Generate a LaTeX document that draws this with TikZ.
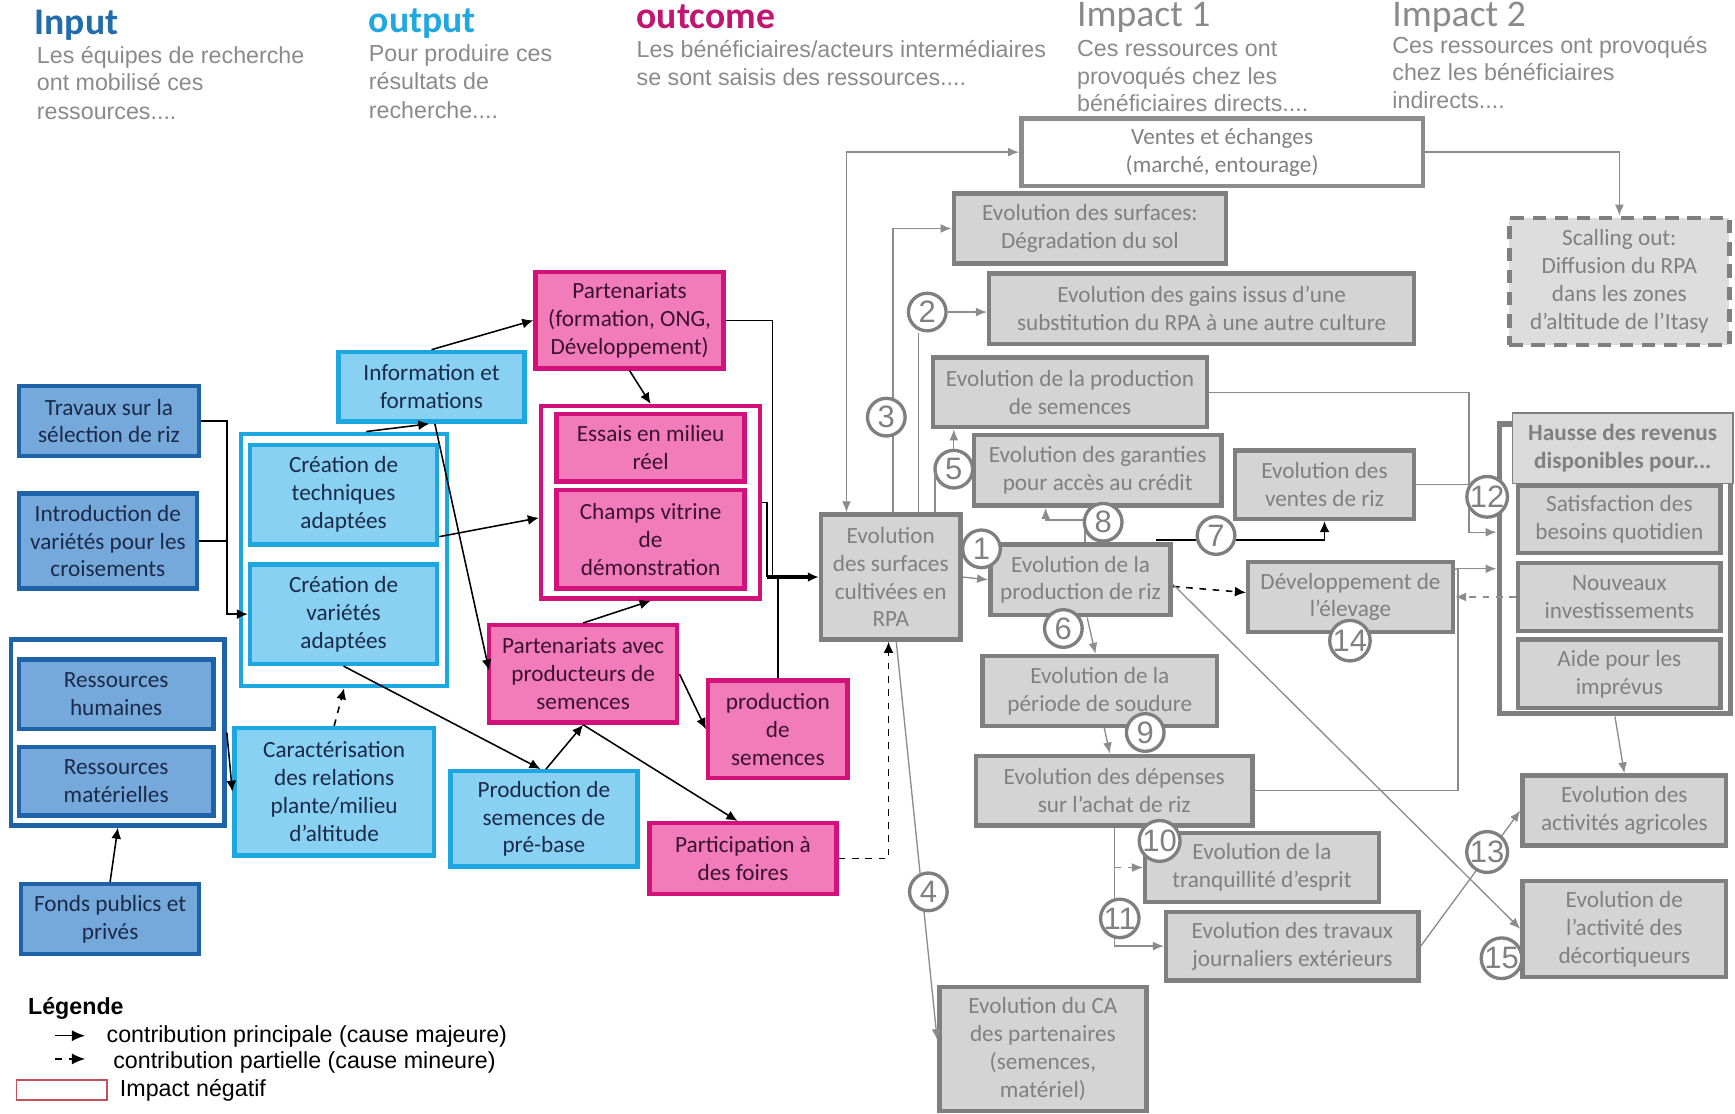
\documentclass[tikz,border=0pt]{standalone}
\usepackage{fontspec}
\setmainfont{Carlito}
\newfontfamily\arialf{Liberation Sans}
\usetikzlibrary{arrows.meta,calc}
\definecolor{ibfill}{HTML}{76A9DB}
\definecolor{ibdraw}{HTML}{1E63A9}
\definecolor{ibtext}{HTML}{1B2A48}
\definecolor{obfill}{HTML}{88D1F2}
\definecolor{obdraw}{HTML}{1CA7E0}
\definecolor{pbfill}{HTML}{F27CBA}
\definecolor{pbdraw}{HTML}{D3117A}
\definecolor{pbtext}{HTML}{3A1230}
\definecolor{gbfill}{HTML}{D4D4D4}
\definecolor{gbdraw}{HTML}{7F7F7F}
\definecolor{gbtext}{HTML}{808080}
\definecolor{subgray}{HTML}{8A8A8A}
\definecolor{tInput}{HTML}{226CAC}
\definecolor{tOutput}{HTML}{22A8E0}
\definecolor{tOutcome}{HTML}{C2156F}
\definecolor{linegray}{HTML}{8C8C8C}
\definecolor{legred}{HTML}{C8505A}
\newcommand\mkbox[7]{%
 \pgfmathsetmacro\mbcx{(#3+#5)/2}%
 \pgfmathsetmacro\mbcy{(#4+#6)/2}%
 \pgfmathsetmacro\mbw{(#5-#3)*0.5}%
 \pgfmathsetmacro\mbh{(#6-#4)*0.5}%
 \node[#2, minimum width=\mbw pt, minimum height=\mbh pt] (#1) at (\mbcx,\mbcy) {#7};}
\begin{document}
\begin{tikzpicture}[x=0.5pt,y=-0.5pt,
 bx/.style={draw, rectangle, inner sep=1pt, align=center, font=\fontsize{10.5}{12.6}\selectfont},
 ib/.style={bx, fill=ibfill, draw=ibdraw, line width=2pt, text=ibtext},
 ob/.style={bx, fill=obfill, draw=obdraw, line width=2pt, text=ibtext},
 pb/.style={bx, fill=pbfill, draw=pbdraw, line width=2pt, text=pbtext},
 gb/.style={bx, fill=gbfill, draw=gbdraw, line width=2pt, text=gbtext},
 grp/.style={draw, rectangle, fill=white, line width=2pt, inner sep=0pt},
 numc/.style={circle, draw=gbdraw, line width=1.5pt, fill=white, minimum size=17pt, inner sep=0pt, text=gbtext, font=\arialf\fontsize{14}{14}\selectfont},
 blk/.style={draw=black, line width=0.7pt, -{Latex[length=5pt,width=4.5pt]}},
 blkline/.style={draw=black, line width=0.7pt},
 gry/.style={draw=linegray, line width=0.6pt, -{Latex[length=5pt,width=4pt]}},
 gryline/.style={draw=linegray, line width=0.6pt},
 hdtitle/.style={anchor=base west, inner sep=0pt, font=\fontsize{17}{19}\selectfont},
 hdsub/.style={anchor=base west, inner sep=0pt, text=subgray, font=\arialf\fontsize{10.5}{12.5}\selectfont},
 legf/.style={anchor=base west, inner sep=0pt, font=\arialf\fontsize{10.5}{12.5}\selectfont},
]
\fill[white] (0,0) rectangle (1568,1006);
\useasboundingbox (0,0) rectangle (1568,1006);

% ---------- headers ----------
\node[hdtitle, text=tInput, font=\bfseries\fontsize{17}{19}\selectfont] (tIn) at (31,31) {Input};
\node[hdsub] (sIn1) at (33,57) {Les équipes de recherche};
\node[hdsub] (sIn2) at (33,82) {ont mobilisé ces};
\node[hdsub] (sIn3) at (33,108) {ressources....};
\node[hdtitle, text=tOutput, font=\bfseries\fontsize{17}{19}\selectfont] (tOut) at (333,29) {output};
\node[hdsub] (sOut1) at (333,56) {Pour produire ces};
\node[hdsub] (sOut2) at (333,81) {résultats de};
\node[hdsub] (sOut3) at (333,107) {recherche....};
\node[hdtitle, text=tOutcome, font=\bfseries\fontsize{17}{19}\selectfont] (tOc) at (575,26) {outcome};
\node[hdsub] (sOc1) at (575,52) {Les bénéficiaires/acteurs intermédiaires};
\node[hdsub] (sOc2) at (575,77) {se sont saisis des ressources....};
\node[hdtitle, text=subgray] (tI1) at (973,24) {Impact 1};
\node[hdsub] (sI11) at (973,51) {Ces ressources ont};
\node[hdsub] (sI12) at (973,76) {provoqués chez les};
\node[hdsub] (sI13) at (973,101) {bénéficiaires directs....};
\node[hdtitle, text=subgray] (tI2) at (1258,24) {Impact 2};
\node[hdsub] (sI21) at (1258,48) {Ces ressources ont provoqués};
\node[hdsub] (sI22) at (1258,73) {chez les bénéficiaires};
\node[hdsub] (sI23) at (1258,98) {indirects....};

% ---------- groups ----------
\mkbox{resgrp}{grp,draw=ibdraw}{10}{578}{203}{746}{}
\mkbox{outgrp}{grp,draw=obdraw}{218}{392}{404}{620}{}
\mkbox{essgrp}{grp,draw=pbdraw}{489}{367}{687}{541}{}
\mkbox{hgrp}{grp,draw=gbdraw,line width=2.5pt}{1355}{383}{1564}{645}{}

% ---------- input ----------
\mkbox{trav}{ib}{17}{349}{180}{412}{Travaux sur la\\sélection de riz}
\mkbox{intro}{ib}{17}{446}{178}{532}{Introduction de\\variétés pour les\\croisements}
\mkbox{reshum}{ib}{17}{596}{193}{659}{Ressources\\humaines}
\mkbox{resmat}{ib}{17}{675}{193}{737}{Ressources\\matérielles}
\mkbox{fonds}{ib}{19}{799}{180}{862}{Fonds publics et\\privés}

% ---------- output ----------
\mkbox{info}{ob}{306}{318}{474}{381}{Information et\\formations}
\mkbox{crtech}{ob}{226}{402}{395}{492}{Création de\\techniques\\adaptées}
\mkbox{crvar}{ob}{226}{510}{395}{600}{Création de\\variétés\\adaptées}
\mkbox{carac}{ob}{212}{658}{392}{773}{Caractérisation\\des relations\\plante/milieu\\d’altitude}
\mkbox{preb}{ob}{407}{697}{576}{783}{Production de\\semences de\\pré-base}

% ---------- outcome ----------
\mkbox{part}{pb}{484}{246}{654}{333}{Partenariats\\(formation, ONG,\\Développement)}
\mkbox{essais}{pb}{503}{374}{673}{435}{Essais en milieu\\réel}
\mkbox{champs}{pb}{503}{443}{673}{532}{Champs vitrine\\de\\démonstration}
\mkbox{partprod}{pb}{442}{565}{612}{653}{Partenariats avec\\producteurs de\\semences}
\mkbox{prodsem}{pb}{640}{615}{766}{703}{production\\de\\semences}
\mkbox{foires}{pb}{587}{744}{756}{808}{Participation à\\des foires}

% ---------- impact 1 ----------
\mkbox{ventes}{gb,fill=white,draw=gray!110!black}{923}{107}{1286}{168}{Ventes et échanges\\(marché, entourage)}
\mkbox{degr}{gb}{862}{175}{1108}{238}{Evolution des surfaces:\\Dégradation du sol}
\mkbox{gains}{gb}{894}{247}{1278}{311}{Evolution des gains issus d’une\\substitution du RPA à une autre culture}
\mkbox{prodsemev}{gb}{843}{323}{1091}{386}{Evolution de la production\\de semences}
\mkbox{garant}{gb}{880}{393}{1104}{457}{Evolution des garanties\\pour accès au crédit}
\mkbox{ventesriz}{gb}{1116}{407}{1278}{469}{Evolution des\\ventes de riz}
\mkbox{surf}{gb}{742}{465}{868}{578}{Evolution\\des surfaces\\cultivées en\\RPA}
\mkbox{prodriz}{gb}{895}{492}{1058}{556}{Evolution de la\\production de riz}
\mkbox{elev}{gb}{1128}{508}{1313}{571}{Développement de\\l’élevage}
\mkbox{soud}{gb}{888}{593}{1100}{656}{Evolution de la\\période de soudure}
\mkbox{depen}{gb}{882}{683}{1132}{746}{Evolution des dépenses\\sur l’achat de riz}
\mkbox{tranq}{gb}{1035}{753}{1246}{815}{Evolution de la\\tranquillité d’esprit}
\mkbox{travj}{gb}{1054}{824}{1282}{886}{Evolution des travaux\\journaliers extérieurs}
\mkbox{ca}{gb}{849}{892}{1036}{1004}{Evolution du CA\\des partenaires\\(semences,\\matériel)}

% ---------- impact 2 ----------
\mkbox{scal}{gb,dash pattern=on 6pt off 4pt,fill=gbfill!80!white}{1364}{197}{1563}{312}{Scalling out:\\Diffusion du RPA\\dans les zones\\d’altitude de l’Itasy}
\mkbox{satis}{gb}{1372}{439}{1555}{500}{Satisfaction des\\besoins quotidien}
\mkbox{nouv}{gb}{1372}{509}{1555}{570}{Nouveaux\\investissements}
\mkbox{aide}{gb}{1372}{578}{1555}{640}{Aide pour les\\imprévus}
\mkbox{hausse}{gb,line width=0.8pt,fill=gbfill!85!white,font=\bfseries\fontsize{10.5}{12.6}\selectfont}{1367}{373}{1566}{437}{Hausse des revenus\\disponibles pour...}
\mkbox{activ}{gb}{1376}{701}{1560}{764}{Evolution des\\activités agricoles}
\mkbox{decort}{gb}{1376}{796}{1560}{883}{Evolution de\\l’activité des\\décortiqueurs}

% ---------- black connectors ----------
\draw[blk] (trav.east) -- ++(23,0) |- (crvar.west);
\draw[blkline] (intro.east) -- ++(25,0);
\draw[blk] (fonds.north) -- (resgrp.south);
\draw[blk] (resgrp.east) -- (carac.west);
\draw[blk,dashed] (carac.north) -- (outgrp.south);
\draw[blk] ($(outgrp.north)+(20,0)$) -- ($(info.south)+(-2,0)$);
\draw[blk] (info.north) -- (part.west);
\draw[blk] ($(info.south)+(3,0)$) -- ($(partprod.west)+(2,-3)$);
\draw[blk] ($(crtech.east)+(0,38)$) -- ($(essgrp.west)+(0,14)$);
\draw[blk] (crvar.south) -- ($(preb.north)+(-3,0)$);
\draw[blk] ($(preb.north)+(2,0)$) -- (partprod.south);
\draw[blk] (partprod.south) -- ($(foires.north)+(-5,0)$);
\draw[blk] (partprod.north) -- (essgrp.south);
\draw[blk] (partprod.east) -- (prodsem.west);
\draw[blk] (part.south) -- (essgrp.north);
\coordinate (mergeA) at ($(surf.west)+(-47,0)$);
\draw[blkline] (part.east) -| ($(surf.west)+(-42,0)$);
\draw[blkline] (essgrp.east) -| (mergeA);
\draw[blkline] (prodsem.north) -- (prodsem.north |- surf.west);
\draw[blk,line width=1.4pt] (mergeA) -- (surf.west);
\draw[blk,dashed] (foires.east) -| ($(surf.south)+(-2,0)$);

% ---------- gray connectors ----------
\draw[gry,{Latex[length=5pt,width=4pt]}-{Latex[length=5pt,width=4pt]}] (ventes.west) -| ($(surf.north)+(-40,0)$);
\draw[gry] ($(surf.north)+(2,0)$) |- (degr.west);
\node[numc] (c2) at (838,282) {2};
\coordinate (v2) at ($(surf.north)+(25,0)$);
\draw[gryline] (v2) -- (v2 |- c2.south);
\draw[gry] (c2.east) -- (gains.west |- c2.east);
\node[numc] (c5) at (862,424) {5};
\coordinate (v5) at ($(surf.north)+(40,0)$);
\draw[gryline] (v5) -- ($(v5)+(0,-36)$);
\draw[gry] (c5.north) -- (c5.north |- prodsemev.south);
\draw[gry] (surf.east) -- (prodriz.west);
\draw[gry] ($(prodriz.north)+(4,0)$) -- ++(0,-20) -| ($(garant.south)+(-47,0)$);
\draw[blk] ($(prodriz.north east)+(-15,-2)$) -| (ventesriz.south);
\draw[blk,dashed] ($(prodriz.east)+(0,6)$) -- ($(elev.west)+(0,-4)$);
\draw[gry] ($(prodriz.south)+(6,0)$) -- ($(soud.north)+(-4,0)$);
\draw[gry] ($(soud.south)+(4,0)$) -- ($(depen.north)+(-4,0)$);
\draw[gry] (depen.south) |- (travj.west);
\draw[gry,dashed] (depen.south |- tranq.west) -- (tranq.west);
\coordinate (busA) at ($(hgrp.west)+(-35,0)$);
\coordinate (busB) at ($(hgrp.west)+(-25,-33)$);
\draw[gry] (depen.east) -| (busA) -- (hgrp.west);
\draw[gryline] ($(elev.east)+(0,-25)$) -- (busA);
\draw[gry,dashed] (nouv.west) -- (elev.east);
\draw[gry] (prodsemev.east) -| (busB) -- (busB -| hgrp.west);
\draw[gryline] (ventesriz.east) -- (ventesriz.east -| busB);
\draw[gry] (hgrp.south) -- (activ.north);
\draw[gry] (travj.east) -- (activ.west);
\draw[gry] ($(prodriz.east)+(0,4)$) -- (decort.west);
\draw[gry] ($(surf.south)+(5,0)$) -- ($(ca.west)+(0,-8)$);
\draw[gry] (ventes.east) -| (scal.north);

% ---------- numbered circles ----------
\node[numc] (c1) at (887,496) {1};
\node[numc] (c3) at (801,377) {3};
\node[numc] (c4) at (839,806) {4};
\node[numc] (c6) at (961,568) {6};
\node[numc] (c7) at (1099,484) {7};
\node[numc] (c8) at (997,472) {8};
\node[numc] (c9) at (1035,662) {9};
\node[numc] (c10) at (1048,760) {10};
\node[numc] (c11) at (1012,830) {11};
\node[numc] (c12) at (1344,449) {12};
\node[numc] (c13) at (1344,770) {13};
\node[numc] (c14) at (1220,579) {14};
\node[numc] (c15) at (1357,866) {15};

% ---------- legend ----------
\node[legf, font=\arialf\bfseries\fontsize{10.5}{12.5}\selectfont] (legT) at (25,917) {Légende};
\coordinate (la1) at (50,936); \coordinate (lb1) at (77,936);
\draw[blk,-{Latex[length=6pt,width=5pt]}] (la1) -- (lb1);
\node[legf] (leg1) at (96,942) {contribution principale (cause majeure)};
\coordinate (la2) at (50,957); \coordinate (lb2) at (77,957);
\draw[blk,dashed,-{Latex[length=6pt,width=5pt]}] (la2) -- (lb2);
\node[legf] (leg2) at (102,966) {contribution partielle (cause mineure)};
\node[draw=legred, line width=0.8pt, minimum width=41pt, minimum height=9pt, inner sep=0pt] (legBox) at (56,985) {};
\node[legf] (leg3) at (108,991) {Impact négatif};
\end{tikzpicture}
\end{document}
